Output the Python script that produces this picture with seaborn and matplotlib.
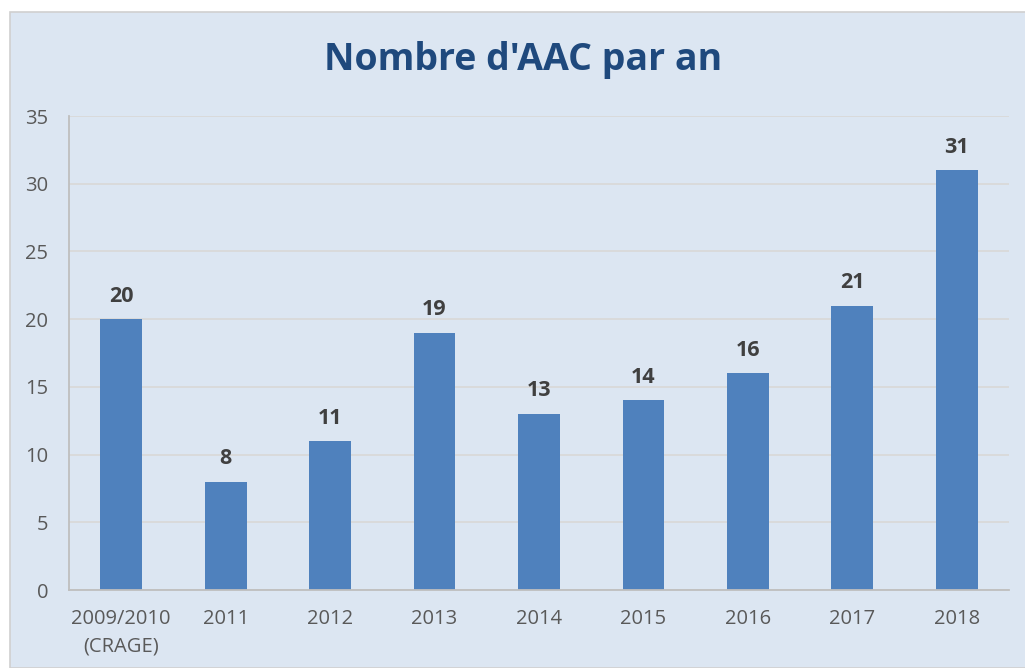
import matplotlib
matplotlib.use("Agg")
import matplotlib.pyplot as plt
import seaborn as sns
import pandas as pd
from matplotlib.patches import Rectangle

categories = ["2009/2010\n(CRAGE)", "2011", "2012", "2013", "2014", "2015", "2016", "2017", "2018"]
values = [20, 8, 11, 19, 13, 14, 16, 21, 31]
yticks = [0, 5, 10, 15, 20, 25, 30, 35]

sns.set_theme(style="white")
plt.rcParams["font.family"] = ["Open Sans", "DejaVu Sans"]

bg = "#dce6f2"
fig = plt.figure(figsize=(10.25, 6.68), dpi=100, facecolor="white")
fig.patches.append(Rectangle((10/1025, 0), 1.0, 1 - 12/668, transform=fig.transFigure,
                             facecolor=bg, edgecolor="#d0d0d0", linewidth=1.2, zorder=-10))
ax = fig.add_axes([69/1025, 78/668, 940/1025, 474/668])
ax.set_facecolor(bg)

df = pd.DataFrame({"cat": categories, "val": values})
sns.barplot(data=df, x="cat", y="val", color="#4f81bd", saturation=1, width=0.4,
            edgecolor="none", linewidth=0, ax=ax)

ax.set_ylim(0, 35)
ax.set_yticks(yticks)
ax.set_xlim(-0.5, len(categories) - 0.5)
ax.yaxis.grid(True, color="#d9d9d9", linewidth=1.3)
ax.set_axisbelow(True)
for s in ["top", "right"]:
    ax.spines[s].set_visible(False)
ax.spines["left"].set_color("#bfbfbf")
ax.spines["bottom"].set_color("#bfbfbf")
ax.spines["left"].set_linewidth(1.3)
ax.spines["bottom"].set_linewidth(1.3)
ax.tick_params(axis="both", length=0, labelsize=14.5, colors="#595959")
ax.tick_params(axis="x", pad=14)
ax.tick_params(axis="y", pad=15)
for lab in ax.get_xticklabels():
    lab.set_linespacing(1.5)
ax.set_xlabel("")
ax.set_ylabel("")

for i, v in enumerate(values):
    ax.annotate(str(v), (i, v), xytext=(0, 9), textcoords="offset points",
                ha="center", va="bottom", fontsize=15.5, fontweight="bold", color="#404040")

fig.text(523/1025, 1 - 60/668, "Nombre d'AAC par an", ha="center", va="center",
         fontsize=27, fontweight="bold", color="#1f497d")

fig.savefig("out.png", dpi=100, facecolor="white")
